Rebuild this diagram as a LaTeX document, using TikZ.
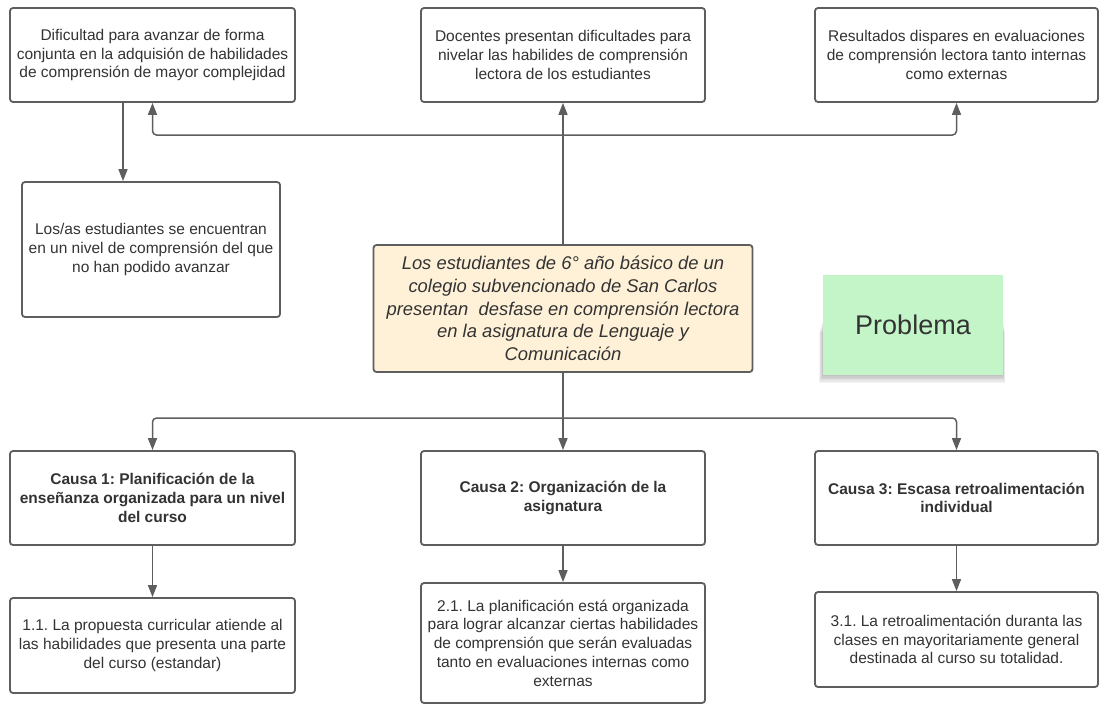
\documentclass[tikz,border=0pt]{standalone}
\usepackage{fontspec}
\setmainfont{Liberation Sans}
\usetikzlibrary{arrows.meta}
\definecolor{txt}{HTML}{333333}
\definecolor{edge}{HTML}{5E5E5E}
\definecolor{cream}{HTML}{FEF1D8}
\definecolor{notegreen}{HTML}{C3F5C8}
\frenchspacing
\begin{document}
\begin{tikzpicture}[x=1pt,y=-1pt,
  box/.style={draw=edge,line width=1.8pt,rounded corners=3pt,fill=white,align=center,
    text=txt,inner sep=0pt,font=\fontsize{15.5}{18.7}\selectfont\frenchspacing},
  causebox/.style={box,font=\fontsize{15.5}{18.7}\selectfont\bfseries\frenchspacing},
  probbox/.style={box,fill=cream,font=\fontsize{18.4}{22.8}\selectfont\itshape\frenchspacing},
  notebox/.style={fill=notegreen,text=txt,font=\fontsize{27}{30}\selectfont},
  shadowlayer/.style={fill=black,opacity=0.045},
  arr/.style={draw=edge,line width=1.5pt,rounded corners=4pt,-{Triangle[length=12pt,width=9pt]}}]
\useasboundingbox (0,0) rectangle (1102,704);

% effects
\node[box,minimum width=285pt,minimum height=94pt] (A) at (152.5,55)
  {Dificultad para avanzar de forma\\conjunta en la adquisión de habilidades\\de comprensión de mayor complejidad};
\node[box,minimum width=284pt,minimum height=94pt] (B) at (563,55)
  {Docentes presentan dificultades para\\nivelar las habilides de comprensión\\lectora de los estudiantes};
\node[box,minimum width=283pt,minimum height=94pt] (C) at (956.5,55)
  {Resultados dispares en evaluaciones\\de comprensión lectora tanto internas\\como externas};
\node[box,minimum width=258pt,minimum height=135pt] (D) at (151,249.5)
  {Los/as estudiantes se encuentran\\en un nivel de comprensión del que\\no han podido avanzar};

% problem
\node[probbox,minimum width=379pt,minimum height=127pt] (E) at (563,308.5)
  {Los estudiantes de 6° año básico de un\\colegio subvencionado de San Carlos\\presentan\ \ desfase en comprensión lectora\\en la asignatura de Lenguaje y\\Comunicación};

% note shadow (soft)
\foreach \k in {0,1,2,3,4,5,6} {
  \fill[shadowlayer] (823-\k*0.7,320+\k*2) rectangle (1003+\k*0.3,375+\k*1.3);
}
\node[notebox,minimum width=180pt,minimum height=100pt] (N) at (913,325) {Problema};

% causes
\node[causebox,minimum width=285pt,minimum height=94pt] (C1) at (152.5,498)
  {Causa 1: Planificación de la\\enseñanza organizada para un nivel\\del curso};
\node[causebox,minimum width=284pt,minimum height=94pt] (C2) at (563,498)
  {Causa 2: Organización de la\\asignatura};
\node[causebox,minimum width=283pt,minimum height=94pt] (C3) at (956.5,498)
  {Causa 3: Escasa retroalimentación\\individual};

% details
\node[box,minimum width=285pt,minimum height=95pt] (D1) at (152.5,645.5)
  {1.1. La propuesta curricular atiende al\\las habilidades que presenta una parte\\del curso (estandar)};
\node[box,minimum width=284pt,minimum height=120pt] (D2) at (563,643)
  {2.1. La planificación está organizada\\para lograr alcanzar ciertas habilidades\\de comprensión que serán evaluadas\\tanto en evaluaciones internas como\\externas};
\node[box,minimum width=283pt,minimum height=95pt] (D3) at (956.5,639.5)
  {3.1. La retroalimentación duranta las\\clases en mayoritariamente general\\destinada al curso su totalidad.};

% connectors top
\coordinate (j1) at (563,135);
\coordinate (ad) at (123,0);
\draw[arr] (E.north) -- (B.south);
\draw[arr] (j1) -| (A.south);
\draw[arr] (j1) -| (C.south);
\draw[arr] (A.south -| ad) -- (D.north -| ad);

% connectors bottom
\coordinate (j2) at (563,418);
\draw[arr] (E.south) -- (C2.north);
\draw[arr] (j2) -| (C1.north);
\draw[arr] (j2) -| (C3.north);
\draw[arr] (C1.south) -- (D1.north);
\draw[arr] (C2.south) -- (D2.north);
\draw[arr] (C3.south) -- (D3.north);
\end{tikzpicture}
\end{document}
